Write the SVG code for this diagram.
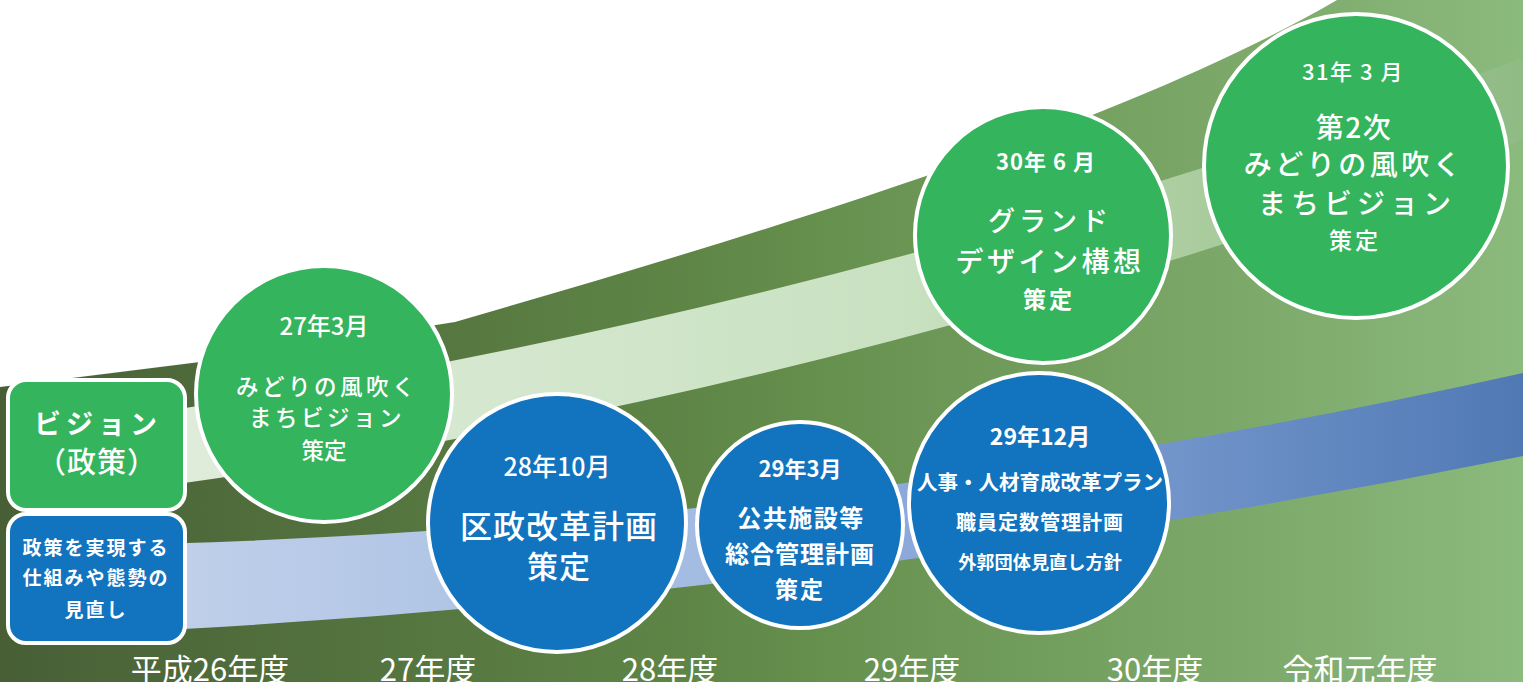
<svg xmlns="http://www.w3.org/2000/svg" width="1523" height="682" viewBox="0 0 1523 682">
<defs>
<linearGradient id="bg" x1="0" y1="0" x2="1523" y2="0" gradientUnits="userSpaceOnUse">
<stop offset="0" stop-color="#485f36"/>
<stop offset="0.45" stop-color="#5e8546"/>
<stop offset="0.55" stop-color="#67914f"/>
<stop offset="1" stop-color="#8bba7d"/>
</linearGradient>
<linearGradient id="lg" x1="170" y1="0" x2="1523" y2="0" gradientUnits="userSpaceOnUse">
<stop offset="0" stop-color="#dfecda"/>
<stop offset="0.55" stop-color="#c8e1c0"/>
<stop offset="0.75" stop-color="#abcd9f"/>
<stop offset="1" stop-color="#90bb85"/>
</linearGradient>
<linearGradient id="bl" x1="170" y1="0" x2="1523" y2="0" gradientUnits="userSpaceOnUse">
<stop offset="0" stop-color="#c0d0ea"/>
<stop offset="0.4" stop-color="#a2bbe1"/>
<stop offset="0.55" stop-color="#8ba8da"/>
<stop offset="0.75" stop-color="#7093c9"/>
<stop offset="1" stop-color="#5079b4"/>
</linearGradient>
</defs>
<style>
text{font-family:"Noto Sans CJK JP","Noto Sans",sans-serif;fill:#fff;text-anchor:middle}
.g{fill:#34b45d;stroke:#fff;stroke-width:4}
.b{fill:#1273be;stroke:#fff;stroke-width:4}
.m{font-weight:500}
.bd{font-weight:700}
.yr{font-size:31px;font-weight:400}
</style>
<rect width="1523" height="682" fill="#fff"/>
<path d="M0,387 L200,362 L455,322 C800,222 1130,120 1337,0 L1523,0 L1523,682 L0,682 Z" fill="url(#bg)"/>
<g id="bands">
<path d="M170,410.3 Q846.5,307.4 1523,58 L1523,140 Q846.5,392.7 170,485 Z" fill="url(#lg)"/>
<path d="M170,543.5 Q846.5,523.1 1523,373 L1523,456 Q846.5,592.5 170,629.8 Z" fill="url(#bl)"/>
</g>
<g id="years">
<text class="yr" x="210" y="681">平成26年度</text>
<text class="yr" x="428" y="681">27年度</text>
<text class="yr" x="670" y="681">28年度</text>
<text class="yr" x="912" y="681">29年度</text>
<text class="yr" x="1155" y="681">30年度</text>
<text class="yr" x="1360" y="681">令和元年度</text>
</g>
<g id="vision">
<rect class="g" x="8" y="380" width="177" height="130" rx="18"/>
<text class="bd" x="98" y="434" font-size="27" letter-spacing="5">ビジョン</text>
<text class="m" x="97" y="473" font-size="29" letter-spacing="1">（政策）</text>
</g>
<g id="policy">
<rect class="b" x="8" y="514" width="177" height="129" rx="18"/>
<text class="bd" x="96" y="555" font-size="19" letter-spacing="2">政策を実現する</text>
<text class="bd" x="96" y="585" font-size="19" letter-spacing="2">仕組みや態勢の</text>
<text class="bd" x="96" y="617" font-size="19" letter-spacing="2">見直し</text>
</g>
<g id="c1">
<circle class="g" cx="324" cy="394" r="128"/>
<text class="m" x="324" y="335" font-size="24">27年3月</text>
<text class="m" x="327" y="395" font-size="22.5" letter-spacing="3.5">みどりの風吹く</text>
<text class="m" x="327" y="426" font-size="22.5" letter-spacing="3.5">まちビジョン</text>
<text class="m" x="324" y="459" font-size="22.5">策定</text>
</g>
<g id="c2">
<circle class="b" cx="557" cy="523" r="129"/>
<text class="m" x="557" y="476" font-size="25">28年10月</text>
<text class="m" x="559" y="538" font-size="32" letter-spacing="1">区政改革計画</text>
<text class="m" x="559" y="578" font-size="31" letter-spacing="1">策定</text>
</g>
<g id="c3">
<circle class="b" cx="800" cy="525" r="103"/>
<text class="bd" x="800" y="477" font-size="22">29年3月</text>
<text class="bd" x="801" y="527" font-size="24" letter-spacing="1.5">公共施設等</text>
<text class="bd" x="800" y="563" font-size="24" letter-spacing="1">総合管理計画</text>
<text class="bd" x="800" y="598" font-size="23" letter-spacing="2">策定</text>
</g>
<g id="c4">
<circle class="b" cx="1039" cy="503" r="130"/>
<text class="bd" x="1040" y="445" font-size="23">29年12月</text>
<text class="bd" x="1040" y="490" font-size="20.5">人事・人材育成改革プラン</text>
<text class="bd" x="1040" y="530" font-size="20" letter-spacing="1">職員定数管理計画</text>
<text class="bd" x="1040" y="569" font-size="18.2">外郭団体見直し方針</text>
</g>
<g id="c5">
<circle class="g" cx="1043" cy="235" r="128"/>
<text class="bd" x="1046" y="170" font-size="22" letter-spacing="1">30年 6 月</text>
<text class="m" x="1050" y="231" font-size="27" letter-spacing="4">グランド</text>
<text class="m" x="1050" y="272" font-size="28" letter-spacing="3.5">デザイン構想</text>
<text class="bd" x="1049" y="308" font-size="23" letter-spacing="3">策定</text>
</g>
<g id="c6">
<circle class="g" cx="1356" cy="166" r="152"/>
<text class="m" x="1353" y="80" font-size="22" letter-spacing="1.5">31年 3 月</text>
<text class="m" x="1354" y="138" font-size="28" letter-spacing="1.5">第2次</text>
<text class="m" x="1354" y="175" font-size="28" letter-spacing="3.5">みどりの風吹く</text>
<text class="m" x="1357" y="214" font-size="28" letter-spacing="5">まちビジョン</text>
<text class="m" x="1355" y="249" font-size="23" letter-spacing="3">策定</text>
</g>
</svg>
